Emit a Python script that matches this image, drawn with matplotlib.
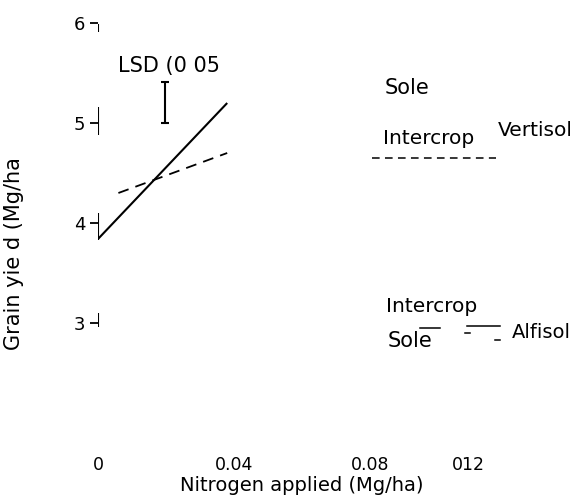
import matplotlib
matplotlib.use('Agg')
from matplotlib import pyplot as plt
import matplotlib.transforms as mtransforms

# nitrogen rate (Mg/ha) and grain yield (Mg/ha)
sole_x = [0.0, 0.038]
sole_y = [3.84, 5.20]
inter_x = [0.006, 0.038]
inter_y = [4.30, 4.70]

# LSD (0.05) bar
lsd_x = 0.0197
lsd_lo, lsd_hi = 5.0, 5.41

# fragments of the right hand lines
vert_x = [0.0806, 0.117]
vert_y = [4.65, 4.65]
alf_segments = [([0.0947, 0.1006], [2.95, 2.95]),
                ([0.1085, 0.1182], [2.97, 2.97]),
                ([0.1080, 0.1094], [2.90, 2.90]),
                ([0.1168, 0.1182], [2.83, 2.83])]

yticks = [3, 4, 5, 6]
xticks = [0, 0.04, 0.08, 0.12]
xticklabels = ['0', '0.04', '0.08', '012']
spine_lo = [2.96, 3.83, 4.88, 5.91]
spine_hi = [3.10, 4.10, 5.16, 5.99]

plt.rcParams['font.family'] = 'DejaVu Sans'

fig = plt.figure(figsize=(5.77, 5.0), dpi=100)
ax = fig.add_axes([98 / 577, 0.114, 408 / 577, 0.84])
ax.set_xlim(0, 0.12)
ax.set_ylim(1.8, 6.0)
for s in ax.spines.values():
    s.set_visible(False)

ax.plot(sole_x, sole_y, color='black', lw=1.5, solid_capstyle='butt')
ax.plot(inter_x, inter_y, color='black', lw=1.3, dashes=(6, 4))
ax.plot(vert_x, vert_y, color='black', lw=1.1, dashes=(5, 3.5))
for sx, sy in alf_segments:
    ax.plot(sx, sy, color='black', lw=1.1)

ax.vlines(lsd_x, lsd_lo, lsd_hi, color='black', lw=1.5)
ax.hlines([lsd_lo, lsd_hi], lsd_x - 0.0012, lsd_x + 0.0012, color='black', lw=1.5)
ax.vlines([0] * len(spine_lo), spine_lo, spine_hi, color='black', lw=1.5)

ax.set_yticks(yticks)
ax.set_yticklabels([str(t) for t in yticks], fontsize=13)
ax.tick_params(axis='y', length=6, width=1.3, pad=3)
ax.set_xticks(xticks)
ax.set_xticklabels(xticklabels, fontsize=12.5)
ax.tick_params(axis='x', length=0, pad=9)
last = ax.get_xticklabels()[-1]
last.set_transform(last.get_transform() + mtransforms.ScaledTranslation(-0.38, 0, fig.dpi_scale_trans))

ax.set_xlabel('Nitrogen applied (Mg/ha)', fontsize=14, labelpad=2)
fig.text(14 / 577, (500 - 254) / 500, 'Grain yie d (Mg/ha', rotation=90,
         fontsize=15, ha='center', va='center')

ax.text(0.0059, 5.57, 'LSD (0 05', fontsize=15, va='center')
ax.text(0.0844, 5.35, 'Sole', fontsize=15, va='center')
ax.text(0.0838, 4.84, 'Intercrop', fontsize=14.5, va='center')
ax.text(0.1176, 4.92, 'Vertisol', fontsize=14.5, va='center', clip_on=False)
ax.text(0.0847, 3.16, 'Intercrop', fontsize=14.5, va='center')
ax.text(0.0853, 2.82, 'Sole', fontsize=15, va='center')
ax.text(0.1218, 2.90, 'Alfisol', fontsize=14, va='center', clip_on=False)

fig.savefig('out.png', dpi=100)
